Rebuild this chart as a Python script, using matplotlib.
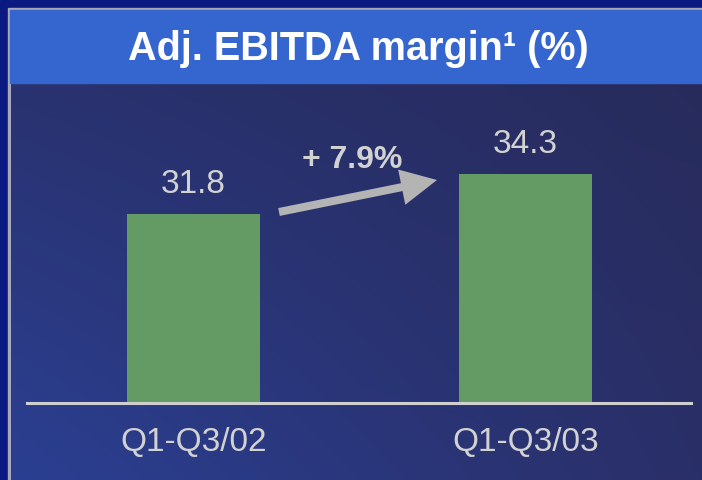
import numpy as np
import matplotlib
matplotlib.use("Agg")
import matplotlib.pyplot as plt
from matplotlib.patches import Rectangle, FancyArrow
from matplotlib.colors import to_rgb

# ---- data ----
categories = ["Q1-Q3/02", "Q1-Q3/03"]
values = [31.8, 34.3]
value_labels = ["31.8", "34.3"]
growth_label = "+ 7.9%"
title = "Adj. EBITDA margin\u00b9 (%)"

FONT = ["Liberation Sans Narrow", "Liberation Sans", "DejaVu Sans"]

W, H = 702, 480
fig = plt.figure(figsize=(W / 100, H / 100), dpi=100)

# background axes in pixel coordinates (y down)
bg = fig.add_axes([0, 0, 1, 1])
bg.set_xlim(0, W)
bg.set_ylim(H, 0)
bg.axis("off")

# outer dark border
bg.add_patch(Rectangle((0, 0), W, H, color="#0a1a80", zorder=0))
# grey frame line
bg.add_patch(Rectangle((8, 8), W - 8, H - 8, color="#a8a8b8", zorder=1))

# gradient panel
tl, bl, tr, br = [np.array(to_rgb(c)) for c in ("#29306a", "#2b3f92", "#272b5a", "#2a2f68")]
ny, nx = 100, 100
yy, xx = np.meshgrid(np.linspace(0, 1, ny), np.linspace(0, 1, nx), indexing="ij")
img = (tl[None, None] * ((1 - xx) * (1 - yy))[..., None] + bl[None, None] * ((1 - xx) * yy)[..., None]
       + tr[None, None] * (xx * (1 - yy))[..., None] + br[None, None] * (xx * yy)[..., None])
bg.imshow(img, extent=(11, W, H, 10), aspect="auto", zorder=2, interpolation="bilinear")

# title bar
bg.add_patch(Rectangle((10, 10), W - 10, 73, color="#3566cf", zorder=3))
bg.text(358, 49, title, color="white", fontsize=28.5, fontweight="bold",
        family=FONT, ha="center", va="center", zorder=4)

# ---- bar axes ----
ax_left, ax_right = 27, 691
ax_bottom, ax_top = 403, 83
ax = fig.add_axes([ax_left / W, 1 - ax_bottom / H, (ax_right - ax_left) / W, (ax_bottom - ax_top) / H])
ax.set_facecolor("none")
x = np.arange(len(categories))
ax.bar(x, values, width=0.40, color="#649a64", bottom=0, zorder=2)
ax.set_xlim(-0.5015, 1.4985)
ax.set_ylim(20, 40)
for s in ax.spines.values():
    s.set_visible(False)
ax.axhline(20, color="#cfcfcf", lw=2.2, zorder=3, clip_on=False)
ax.set_yticks([])
ax.set_xticks(x)
ax.set_xticklabels(categories, color="#d2d2d2", fontsize=24, family=FONT)
ax.tick_params(axis="x", length=0, pad=17)
for xi, v, lab in zip(x, values, value_labels):
    ax.annotate(lab, (xi, v), xytext=(0, 10), textcoords="offset points",
                ha="center", va="bottom", color="#d2d2d2", fontsize=24, family=FONT)

# growth arrow (pixel coords in background axes)
bg.add_patch(FancyArrow(279, 212, 158, -32, width=8, head_width=36, head_length=36,
                        length_includes_head=True, color="#b4b4b4", zorder=5, lw=0))
bg.text(352, 160, growth_label, color="#d2d2d2", fontsize=23, fontweight="bold",
        family=FONT, ha="center", va="center", zorder=6)

fig.savefig("out.png", dpi=100)
